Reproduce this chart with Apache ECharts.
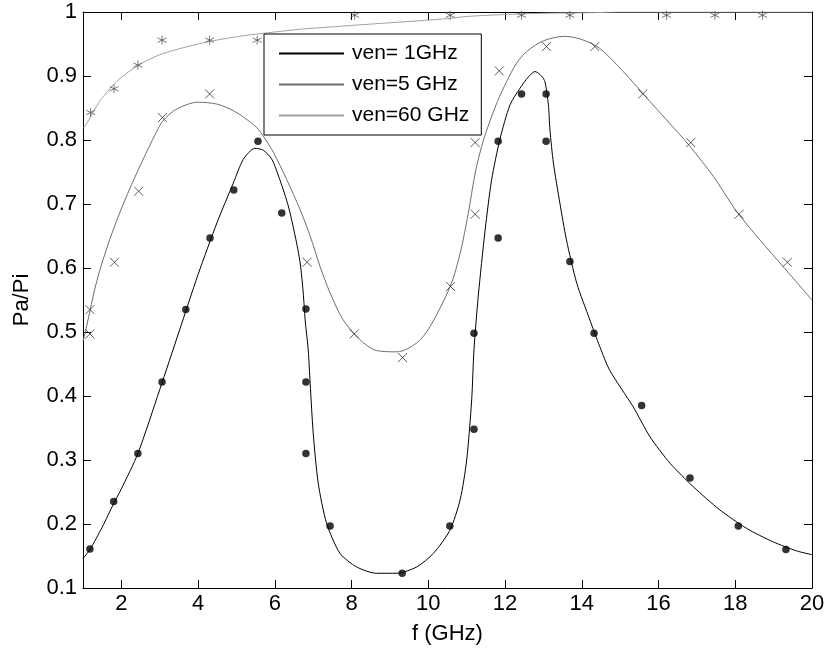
<!DOCTYPE html>
<html>
<head>
<meta charset="utf-8">
<script src="https://cdn.jsdelivr.net/npm/echarts@6.0.0/dist/echarts.min.js"></script>
<style>
html,body{margin:0;padding:0;background:#fff;}
#chart{width:828px;height:655px;}
</style>
</head>
<body>
<div id="chart"></div>
<script>
// ---- data ----
const xTicks = [2, 4, 6, 8, 10, 12, 14, 16, 18, 20];
const yTicks = [0.1, 0.2, 0.3, 0.4, 0.5, 0.6, 0.7, 0.8, 0.9, 1];
const seriesNames = ['ven= 1GHz', 'ven=5 GHz', 'ven=60 GHz'];

// model curves [f (GHz), Pa/Pi]
const curve1 = [[1.0,0.146],[1.18,0.16],[1.5,0.195],[1.8,0.232],[2.0,0.255],[2.43,0.31],[3.0,0.41],[3.5,0.5],[4.0,0.59],[4.5,0.672],[4.92,0.733],[5.18,0.77],[5.48,0.787],[5.7,0.784],[5.92,0.77],[6.13,0.738],[6.35,0.697],[6.53,0.65],[6.66,0.608],[6.74,0.561],[6.79,0.519],[6.87,0.472],[6.92,0.42],[7.0,0.342],[7.13,0.264],[7.35,0.201],[7.7,0.154],[8.13,0.133],[8.65,0.123],[9.18,0.123],[9.7,0.133],[10.13,0.154],[10.56,0.19],[10.83,0.238],[11.0,0.3],[11.13,0.394],[11.19,0.472],[11.3,0.555],[11.48,0.659],[11.65,0.738],[11.87,0.802],[12.13,0.855],[12.39,0.881],[12.6,0.898],[12.78,0.907],[12.95,0.9],[13.04,0.891],[13.13,0.855],[13.17,0.816],[13.26,0.764],[13.43,0.701],[13.6,0.644],[13.87,0.576],[14.21,0.519],[14.47,0.477],[14.73,0.44],[15.34,0.383],[15.78,0.336],[16.3,0.295],[16.91,0.258],[17.6,0.222],[18.3,0.193],[18.99,0.172],[19.6,0.158],[20.0,0.152]];
const curve2 = [[1.0,0.485],[1.08,0.505],[1.36,0.58],[1.7,0.645],[2.05,0.7],[2.49,0.76],[2.91,0.812],[3.07,0.829],[3.43,0.848],[4.0,0.859],[4.5,0.856],[4.91,0.846],[5.2,0.835],[5.52,0.82],[5.7,0.806],[5.96,0.781],[6.31,0.738],[6.66,0.691],[6.92,0.65],[7.18,0.602],[7.44,0.561],[7.78,0.519],[8.22,0.488],[8.65,0.471],[9.18,0.469],[9.7,0.483],[10.04,0.508],[10.57,0.571],[10.83,0.623],[11.04,0.685],[11.22,0.748],[11.39,0.79],[11.55,0.82],[11.8,0.86],[12.04,0.891],[12.3,0.92],[12.56,0.938],[13.0,0.955],[13.56,0.962],[14.0,0.957],[14.47,0.943],[15.08,0.907],[15.78,0.86],[16.56,0.808],[16.82,0.79],[17.43,0.743],[18.04,0.688],[18.64,0.644],[19.25,0.602],[20.0,0.55]];
const curve3 = [[1.0,0.818],[1.07,0.823],[1.43,0.86],[1.87,0.891],[2.39,0.915],[2.99,0.933],[3.6,0.944],[4.3,0.954],[5.08,0.962],[5.74,0.967],[6.65,0.973],[7.08,0.975],[8.47,0.981],[9.69,0.986],[10.56,0.99],[11.0,0.993],[11.96,0.996],[13.0,0.998],[14.3,0.999],[15.0,1.0],[20.0,1.0]];

// measured points
const dots1 = [[1.18,0.161],[1.8,0.235],[2.43,0.31],[3.06,0.422],[3.68,0.535],[4.31,0.647],[4.93,0.722],[5.56,0.798],[6.18,0.686],[6.81,0.536],[6.81,0.422],[6.81,0.31],[7.44,0.197],[9.32,0.123],[10.56,0.197],[11.19,0.348],[11.19,0.498],[11.82,0.647],[11.82,0.798],[12.43,0.872],[13.07,0.872],[13.07,0.798],[13.69,0.61],[14.32,0.498],[15.56,0.385],[16.82,0.272],[18.08,0.197],[19.32,0.16]];
const cross5 = [[1.18,0.497],[1.18,0.535],[1.82,0.609],[2.45,0.72],[3.07,0.835],[4.3,0.872],[6.84,0.609],[8.07,0.497],[9.33,0.46],[10.58,0.571],[11.22,0.684],[11.22,0.796],[11.85,0.908],[13.08,0.946],[14.34,0.946],[15.59,0.872],[16.84,0.796],[18.1,0.684],[19.36,0.609]];
const star60 = [[1.2,0.843],[1.81,0.88],[2.43,0.917],[3.06,0.956],[4.3,0.956],[5.54,0.956],[8.08,0.995],[10.57,0.995],[12.43,0.995],[13.69,0.995],[16.21,0.995],[17.47,0.995],[18.71,0.995]];

// ---- chart ----
const FONT = 'Liberation Sans, Arial, Helvetica, sans-serif';
const chart = echarts.init(document.getElementById('chart'), null, {renderer: 'canvas'});

function baseX(pos, showLabel) {
  return {
    type: 'value', min: 1, max: 20, position: pos,
    axisLine: {show: true, onZero: false, lineStyle: {color: '#000', width: 1}},
    axisTick: {show: true, inside: true, length: 8, customValues: xTicks, lineStyle: {color: '#000', width: 1}},
    axisLabel: {show: showLabel, customValues: xTicks, margin: 5, fontSize: 22, fontFamily: FONT, color: '#000'},
    splitLine: {show: false}
  };
}
function baseY(pos, showLabel) {
  return {
    type: 'value', min: 0.1, max: 1, position: pos,
    axisLine: {show: true, onZero: false, lineStyle: {color: '#000', width: 1}},
    axisTick: {show: true, inside: true, length: 8, customValues: yTicks, lineStyle: {color: '#000', width: 1}},
    axisLabel: {show: showLabel, customValues: yTicks, margin: 6, fontSize: 22, fontFamily: FONT, color: '#000'},
    splitLine: {show: false}
  };
}

const xBottom = Object.assign(baseX('bottom', true), {
  name: 'f (GHz)', nameLocation: 'middle', nameGap: 35,
  nameTextStyle: {fontSize: 22, fontFamily: FONT, color: '#000'}
});
const yLeft = Object.assign(baseY('left', true), {
  name: 'Pa/Pi', nameLocation: 'middle', nameGap: 50,
  nameTextStyle: {fontSize: 22, fontFamily: FONT, color: '#000'}
});

const option = {
  animation: false,
  backgroundColor: '#fff',
  grid: {left: 83, right: 16, top: 12, bottom: 67, containLabel: false},
  xAxis: [xBottom, baseX('top', false)],
  yAxis: [yLeft, baseY('right', false)],
  legend: {
    data: seriesNames,
    orient: 'vertical', left: 264, top: 34,
    padding: [9, 12, 9, 14], itemGap: 10, itemWidth: 65, itemHeight: 22,
    borderColor: '#000', borderWidth: 1, backgroundColor: '#fff',
    selectedMode: false,
    itemStyle: {opacity: 0},
    textStyle: {fontSize: 21, fontFamily: FONT, color: '#000', padding: [0, 0, 0, 3]}
  },
  series: [
    {name: seriesNames[0], type: 'line', data: curve1, symbol: 'none', smooth: 0.25, smoothMonotone: 'none',
     lineStyle: {color: '#000', width: 1}, itemStyle: {color: '#000'}, z: 3},
    {name: seriesNames[1], type: 'line', data: curve2, symbol: 'none', smooth: 0.3,
     lineStyle: {color: '#6e6e6e', width: 1}, itemStyle: {color: '#6e6e6e'}, z: 3},
    {name: seriesNames[2], type: 'line', data: curve3, symbol: 'none', smooth: 0.25,
     lineStyle: {color: '#a0a0a0', width: 1}, itemStyle: {color: '#a0a0a0'}, z: 3},
    {name: 'pts1', type: 'scatter', data: dots1, symbol: 'circle', symbolSize: 7.5,
     itemStyle: {color: '#000'}, z: 4},
    {name: 'pts5', type: 'scatter', data: cross5, symbol: 'path://M0,0L10,10M10,0L0,10', symbolSize: 9,
     itemStyle: {color: 'transparent', borderColor: '#333', borderWidth: 1}, z: 4},
    {name: 'pts60', type: 'scatter', data: star60, symbol: 'path://M5,0L5,10M0.7,2.5L9.3,7.5M0.7,7.5L9.3,2.5', symbolSize: 9,
     itemStyle: {color: 'transparent', borderColor: '#555', borderWidth: 1}, z: 4}
  ]
};
chart.setOption(option);
</script>
</body>
</html>
